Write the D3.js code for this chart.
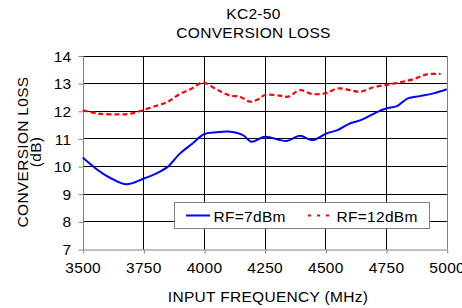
<!DOCTYPE html>
<html><head><meta charset="utf-8">
<script src="https://cdn.jsdelivr.net/npm/d3@7"></script>
<style>
html,body{margin:0;padding:0;background:#fff;}
text{font-family:"Liberation Sans",Arial,sans-serif;fill:#000;}
</style></head>
<body><svg id="c" width="462" height="308"></svg>
<script>
const titleLines = ["KC2-50", "CONVERSION LOSS"];
const xTitle = "INPUT FREQUENCY (MHz)";
const yTitleLines = ["CONVERSION L0SS", "(dB)"];
const xTicks = [3500, 3750, 4000, 4250, 4500, 4750, 5000];
const yTicks = [7, 8, 9, 10, 11, 12, 13, 14];
const seriesNames = ["RF=7dBm", "RF=12dBm"];

const freqBlue = [3500,3563,3618,3680,3750,3800,3850,3900,3950,4000,4050,4100,4160,4195,4250,4340,4395,4445,4505,4550,4595,4645,4700,4750,4795,4840,4890,4945,5000];
const lossBlue = [10.31,9.85,9.55,9.34,9.54,9.72,9.97,10.45,10.8,11.15,11.22,11.25,11.12,10.88,11.06,10.91,11.1,10.94,11.18,11.3,11.52,11.66,11.9,12.08,12.17,12.45,12.53,12.63,12.78];

const freqRed = [3500,3563,3645,3700,3751,3810,3852,3893,3948,3996,4052,4107,4148,4189,4224,4251,4313,4347,4395,4444,4498,4553,4601,4643,4698,4753,4808,4862,4918,4975];
const lossRed = [12.02,11.9,11.87,11.9,12.03,12.2,12.33,12.57,12.8,13.02,12.77,12.55,12.51,12.33,12.42,12.57,12.55,12.51,12.75,12.61,12.63,12.81,12.75,12.69,12.85,12.94,13.03,13.14,13.32,13.33];

const svg = d3.select("#c");
const x = d3.scaleLinear().domain([3500, 5000]).range([82.7, 446.7]);
const y = d3.scaleLinear().domain([7, 14]).range([249, 55.5]);
const px = v => Math.round(v) + 0.5;
const FS = "15.5px", LS = "0.3px";

// grid
const g = svg.append("g");
g.selectAll("line.h").data(yTicks.slice(1)).enter().append("line")
  .attr("x1", px(x(3500))).attr("x2", px(x(5000)))
  .attr("y1", d => px(y(d))).attr("y2", d => px(y(d)))
  .attr("stroke", "#000").attr("stroke-width", 1);
g.selectAll("line.v").data(xTicks.slice(1)).enter().append("line")
  .attr("y1", px(y(7))).attr("y2", px(y(14)))
  .attr("x1", d => px(x(d))).attr("x2", d => px(x(d)))
  .attr("stroke", d => d === 5000 ? "#808080" : "#000").attr("stroke-width", 1);

// axes
const yAxis = d3.axisLeft(y).tickValues(yTicks).tickSize(5).tickSizeOuter(0).tickFormat(d3.format("d"));
const xAxis = d3.axisBottom(x).tickValues(xTicks).tickSize(4).tickSizeOuter(0).tickFormat(d3.format("d"));
const ya = svg.append("g").attr("transform", `translate(${px(x(3500))},0)`).call(yAxis);
ya.select(".domain").attr("stroke", "#808080").attr("d", `M0,${px(y(7))}V${px(y(14))}`);
ya.selectAll(".tick line").attr("stroke", "#808080").attr("transform", "translate(0,0.5)");
ya.selectAll(".tick text").attr("x", -12).attr("dy", "0.36em")
  .style("font-size", FS).style("letter-spacing", LS).attr("font-family", null);
const xa = svg.append("g").attr("transform", `translate(0,${px(y(7))})`).call(xAxis);
xa.select(".domain").attr("stroke", "#808080");
xa.selectAll(".tick line").attr("stroke", "#808080").attr("transform", "translate(0.5,0)");
xa.selectAll(".tick text").attr("y", 9).attr("dy", "0.95em")
  .style("font-size", FS).style("letter-spacing", LS).attr("font-family", null);

// lines
const line = d3.line().x(d => x(d[0])).y(d => y(d[1])).curve(d3.curveCatmullRom.alpha(0.5));
svg.append("path").datum(freqBlue.map((f, i) => [f, lossBlue[i]]))
  .attr("d", line).attr("fill", "none").attr("stroke", "#0000ff").attr("stroke-width", 2);
svg.append("path").datum(freqRed.map((f, i) => [f, lossRed[i]]))
  .attr("d", line).attr("fill", "none").attr("stroke", "#ff0000").attr("stroke-width", 2.2)
  .attr("stroke-dasharray", "5,3");

// titles
svg.selectAll("text.title").data(titleLines).enter().append("text")
  .attr("x", 253.5).attr("y", (d, i) => 19 + i * 19.3).attr("text-anchor", "middle")
  .style("font-size", FS).style("letter-spacing", LS).text(d => d);
svg.append("text").attr("x", 268).attr("y", 302).attr("text-anchor", "middle")
  .style("font-size", FS).style("letter-spacing", LS).text(xTitle);
svg.selectAll("text.yt").data(yTitleLines).enter().append("text")
  .attr("transform", (d, i) => `translate(${27.5 + i * 13},152) rotate(-90)`)
  .attr("text-anchor", "middle").style("font-size", FS).style("letter-spacing", LS).text(d => d);

// legend
const lg = svg.append("g");
lg.append("rect").attr("x", 174.5).attr("y", 202.5).attr("width", 255).attr("height", 26)
  .attr("fill", "#fff").attr("stroke", "#808080").attr("stroke-width", 1);
lg.append("line").attr("x1", 186).attr("x2", 210).attr("y1", 215.5).attr("y2", 215.5)
  .attr("stroke", "#0000ff").attr("stroke-width", 2);
lg.append("line").attr("x1", 308).attr("x2", 334).attr("y1", 215.5).attr("y2", 215.5)
  .attr("stroke", "#ff0000").attr("stroke-width", 2.2).attr("stroke-dasharray", "3,6");
lg.selectAll("text").data(seriesNames).enter().append("text")
  .attr("x", (d, i) => i === 0 ? 213.5 : 336.5).attr("y", 221.5)
  .style("font-size", FS).style("letter-spacing", LS).text(d => d);
</script></body></html>
